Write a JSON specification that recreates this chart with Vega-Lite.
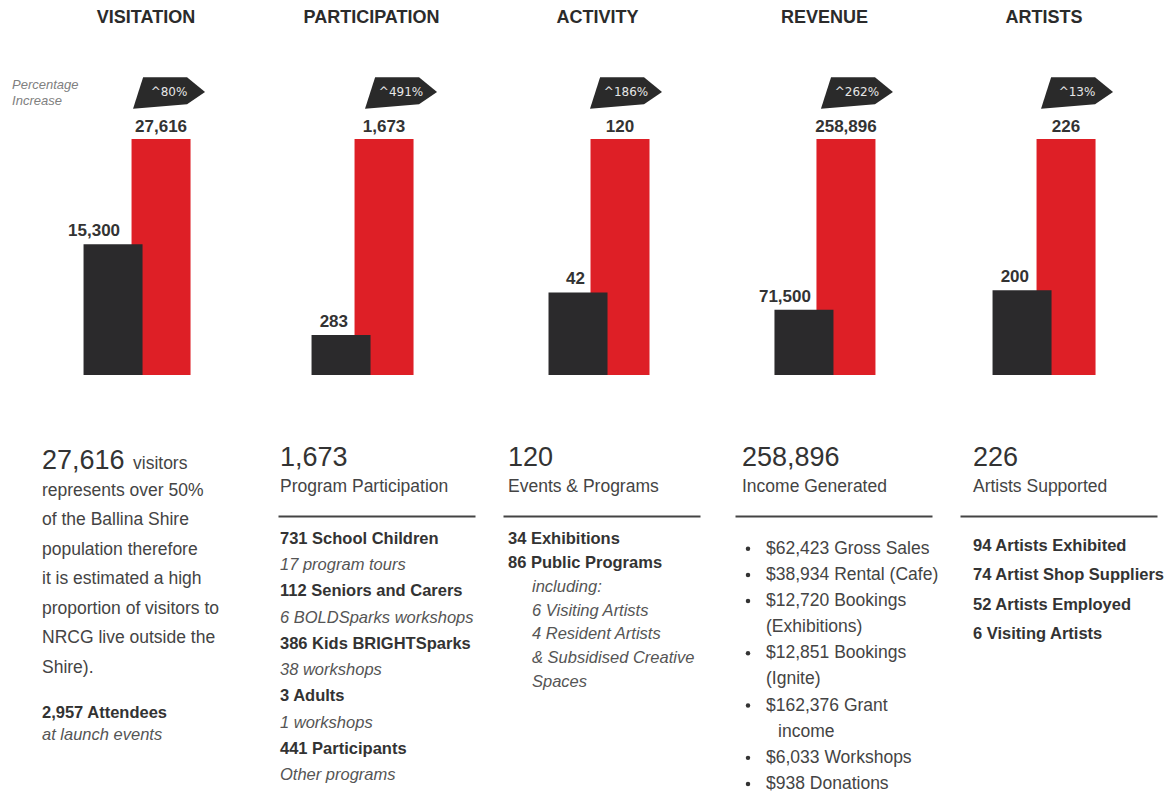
{
  "$schema": "https://vega.github.io/schema/vega-lite/v6.json",
  "background": "white",
  "padding": {"left": 12, "top": 9, "right": 2, "bottom": 2},
  "config": {
    "view": {"stroke": null},
    "font": "Liberation Sans",
    "title": {"fontSize": 18, "fontWeight": "bold", "color": "#2b2b2b", "baseline": "bottom", "offset": 50, "anchor": "middle"}
  },
  "datasets": {
    "bars": [
      {"panel": "VISITATION", "period": "Current", "value": 27616, "increase": "^80%"},
      {"panel": "VISITATION", "period": "Previous", "value": 15300},
      {"panel": "PARTICIPATION", "period": "Current", "value": 1673, "increase": "^491%"},
      {"panel": "PARTICIPATION", "period": "Previous", "value": 283},
      {"panel": "ACTIVITY", "period": "Current", "value": 120, "increase": "^186%"},
      {"panel": "ACTIVITY", "period": "Previous", "value": 42},
      {"panel": "REVENUE", "period": "Current", "value": 258896, "increase": "^262%"},
      {"panel": "REVENUE", "period": "Previous", "value": 71500},
      {"panel": "ARTISTS", "period": "Current", "value": 226, "increase": "^13%"},
      {"panel": "ARTISTS", "period": "Previous", "value": 200}
    ],
    "headers": [
      {"panel": "PARTICIPATION", "line": 1, "kind": "figure", "text": "1,673"},
      {"panel": "PARTICIPATION", "line": 2, "kind": "caption", "text": "Program Participation"},
      {"panel": "ACTIVITY", "line": 1, "kind": "figure", "text": "120"},
      {"panel": "ACTIVITY", "line": 2, "kind": "caption", "text": "Events & Programs"},
      {"panel": "REVENUE", "line": 1, "kind": "figure", "text": "258,896"},
      {"panel": "REVENUE", "line": 2, "kind": "caption", "text": "Income Generated"},
      {"panel": "ARTISTS", "line": 1, "kind": "figure", "text": "226"},
      {"panel": "ARTISTS", "line": 2, "kind": "caption", "text": "Artists Supported"}
    ],
    "details": [
      {"panel": "VISITATION", "line": 0, "indent": 0, "kind": "figure", "text": "27,616"},
      {"panel": "VISITATION", "line": 0, "indent": 0, "kind": "suffix", "text": "visitors"},
      {"panel": "VISITATION", "line": 1, "indent": 0, "kind": "body", "text": "represents over 50%"},
      {"panel": "VISITATION", "line": 2, "indent": 0, "kind": "body", "text": "of the Ballina Shire"},
      {"panel": "VISITATION", "line": 3, "indent": 0, "kind": "body", "text": "population therefore"},
      {"panel": "VISITATION", "line": 4, "indent": 0, "kind": "body", "text": "it is estimated  a high"},
      {"panel": "VISITATION", "line": 5, "indent": 0, "kind": "body", "text": "proportion of visitors to"},
      {"panel": "VISITATION", "line": 6, "indent": 0, "kind": "body", "text": "NRCG live outside the"},
      {"panel": "VISITATION", "line": 7, "indent": 0, "kind": "body", "text": "Shire)."},
      {"panel": "VISITATION", "line": 8, "indent": 0, "kind": "item", "text": "2,957 Attendees"},
      {"panel": "VISITATION", "line": 9, "indent": 0, "kind": "note", "text": "at launch events"},
      {"panel": "PARTICIPATION", "line": 0, "indent": 0, "kind": "item", "text": "731 School Children"},
      {"panel": "PARTICIPATION", "line": 1, "indent": 0, "kind": "note", "text": "17 program tours"},
      {"panel": "PARTICIPATION", "line": 2, "indent": 0, "kind": "item", "text": "112 Seniors and Carers"},
      {"panel": "PARTICIPATION", "line": 3, "indent": 0, "kind": "note", "text": "6 BOLDSparks workshops"},
      {"panel": "PARTICIPATION", "line": 4, "indent": 0, "kind": "item", "text": "386 Kids BRIGHTSparks"},
      {"panel": "PARTICIPATION", "line": 5, "indent": 0, "kind": "note", "text": "38 workshops"},
      {"panel": "PARTICIPATION", "line": 6, "indent": 0, "kind": "item", "text": "3 Adults"},
      {"panel": "PARTICIPATION", "line": 7, "indent": 0, "kind": "note", "text": " 1 workshops"},
      {"panel": "PARTICIPATION", "line": 8, "indent": 0, "kind": "item", "text": "441 Participants"},
      {"panel": "PARTICIPATION", "line": 9, "indent": 0, "kind": "note", "text": " Other programs"},
      {"panel": "ACTIVITY", "line": 0, "indent": 0, "kind": "item", "text": "34 Exhibitions"},
      {"panel": "ACTIVITY", "line": 1, "indent": 0, "kind": "item", "text": "86 Public Programs"},
      {"panel": "ACTIVITY", "line": 2, "indent": 1, "kind": "note", "text": "including:"},
      {"panel": "ACTIVITY", "line": 3, "indent": 1, "kind": "note", "text": "6 Visiting Artists"},
      {"panel": "ACTIVITY", "line": 4, "indent": 1, "kind": "note", "text": "4 Resident Artists"},
      {"panel": "ACTIVITY", "line": 5, "indent": 1, "kind": "note", "text": "& Subsidised Creative"},
      {"panel": "ACTIVITY", "line": 6, "indent": 1, "kind": "note", "text": "Spaces"},
      {"panel": "REVENUE", "line": 0, "indent": 1, "kind": "bullet", "text": "$62,423 Gross Sales"},
      {"panel": "REVENUE", "line": 1, "indent": 1, "kind": "bullet", "text": "$38,934 Rental (Cafe)"},
      {"panel": "REVENUE", "line": 2, "indent": 1, "kind": "bullet", "text": "$12,720 Bookings"},
      {"panel": "REVENUE", "line": 3, "indent": 1, "kind": "cont", "text": "(Exhibitions)"},
      {"panel": "REVENUE", "line": 4, "indent": 1, "kind": "bullet", "text": "$12,851 Bookings"},
      {"panel": "REVENUE", "line": 5, "indent": 1, "kind": "cont", "text": "(Ignite)"},
      {"panel": "REVENUE", "line": 6, "indent": 1, "kind": "bullet", "text": "$162,376 Grant"},
      {"panel": "REVENUE", "line": 7, "indent": 1.5, "kind": "cont", "text": "income"},
      {"panel": "REVENUE", "line": 8, "indent": 1, "kind": "bullet", "text": "$6,033 Workshops"},
      {"panel": "REVENUE", "line": 9, "indent": 1, "kind": "bullet", "text": "$938 Donations"},
      {"panel": "ARTISTS", "line": 0, "indent": 0, "kind": "item", "text": "94 Artists Exhibited"},
      {"panel": "ARTISTS", "line": 1, "indent": 0, "kind": "item", "text": "74 Artist Shop Suppliers"},
      {"panel": "ARTISTS", "line": 2, "indent": 0, "kind": "item", "text": "52 Artists Employed"},
      {"panel": "ARTISTS", "line": 3, "indent": 0, "kind": "item", "text": "6 Visiting Artists"}
    ]
  },
  "columns": 5,
  "spacing": {"row": 20, "column": 28},
  "bounds": "flush",
  "concat": [
    {
      "width": 144, "height": 236,
      "title": {"text": "VISITATION", "dx": 32},
      "data": {"name": "bars"},
      "transform": [{"filter": "datum.panel === 'VISITATION'"}],
      "encoding": {
        "x": {"field": "period", "type": "nominal", "sort": ["Previous", "Current"], "scale": {"type": "point", "padding": 1, "align": 0.74}, "axis": null},
        "y": {"field": "value", "type": "quantitative", "scale": {"nice": false, "zero": true}, "axis": null}
      },
      "layer": [
        {"mark": {"type": "bar", "width": 59}, "encoding": {"color": {"field": "period", "type": "nominal", "scale": {"domain": ["Previous", "Current"], "range": ["#2b2a2c", "#de1f26"]}, "legend": null}}},
        {"transform": [{"filter": "datum.period === 'Previous'"}], "mark": {"type": "text", "align": "right", "baseline": "middle", "dx": 7, "dy": -13, "fontSize": 17, "fontWeight": "bold", "color": "#333333"}, "encoding": {"text": {"field": "value", "type": "quantitative", "format": ","}}},
        {"transform": [{"filter": "datum.period === 'Current'"}], "mark": {"type": "text", "align": "center", "baseline": "middle", "dy": -12, "fontSize": 17, "fontWeight": "bold", "color": "#333333"}, "encoding": {"text": {"field": "value", "type": "quantitative", "format": ","}}},
        {"transform": [{"filter": "datum.period === 'Current'"}], "mark": {"type": "point", "shape": "M-0.72,-0.44L0.5,-0.44L1,-0.03L0.5,0.31L-1,0.44Z", "size": 5184, "filled": true, "color": "#2a2a2a", "opacity": 1, "xOffset": 8, "yOffset": -46}},
        {"transform": [{"filter": "datum.period === 'Current'"}], "mark": {"type": "text", "align": "center", "baseline": "middle", "dx": 8, "dy": -47, "fontSize": 12, "font": "DejaVu Sans", "color": "#e6e6e6"}, "encoding": {"text": {"field": "increase"}}},
        {"transform": [{"filter": "datum.period === 'Current'"}], "mark": {"type": "text", "text": ["Percentage", "Increase"], "lineHeight": 16, "align": "left", "baseline": "top", "dx": -149, "dy": -60, "fontSize": 13, "fontStyle": "italic", "color": "#808080"}}
      ]
    },
    {
      "width": 129, "height": 236,
      "title": {"text": "PARTICIPATION", "dx": 29},
      "data": {"name": "bars"},
      "transform": [{"filter": "datum.panel === 'PARTICIPATION'"}],
      "encoding": {
        "x": {"field": "period", "type": "nominal", "sort": ["Previous", "Current"], "scale": {"type": "point", "padding": 1, "align": 0.733}, "axis": null},
        "y": {"field": "value", "type": "quantitative", "scale": {"nice": false, "zero": true}, "axis": null}
      },
      "layer": [
        {"mark": {"type": "bar", "width": 59}, "encoding": {"color": {"field": "period", "type": "nominal", "scale": {"domain": ["Previous", "Current"], "range": ["#2b2a2c", "#de1f26"]}, "legend": null}}},
        {"transform": [{"filter": "datum.period === 'Previous'"}], "mark": {"type": "text", "align": "right", "baseline": "middle", "dx": 7, "dy": -13, "fontSize": 17, "fontWeight": "bold", "color": "#333333"}, "encoding": {"text": {"field": "value", "type": "quantitative", "format": ","}}},
        {"transform": [{"filter": "datum.period === 'Current'"}], "mark": {"type": "text", "align": "center", "baseline": "middle", "dy": -12, "fontSize": 17, "fontWeight": "bold", "color": "#333333"}, "encoding": {"text": {"field": "value", "type": "quantitative", "format": ","}}},
        {"transform": [{"filter": "datum.period === 'Current'"}], "mark": {"type": "point", "shape": "M-0.72,-0.44L0.5,-0.44L1,-0.03L0.5,0.31L-1,0.44Z", "size": 5184, "filled": true, "color": "#2a2a2a", "opacity": 1, "xOffset": 17, "yOffset": -46}},
        {"transform": [{"filter": "datum.period === 'Current'"}], "mark": {"type": "text", "align": "center", "baseline": "middle", "dx": 17, "dy": -47, "fontSize": 12, "font": "DejaVu Sans", "color": "#e6e6e6"}, "encoding": {"text": {"field": "increase"}}}
      ]
    },
    {
      "width": 126, "height": 236,
      "title": {"text": "ACTIVITY", "dx": 31.5},
      "data": {"name": "bars"},
      "transform": [{"filter": "datum.panel === 'ACTIVITY'"}],
      "encoding": {
        "x": {"field": "period", "type": "nominal", "sort": ["Previous", "Current"], "scale": {"type": "point", "padding": 1, "align": 0.893}, "axis": null},
        "y": {"field": "value", "type": "quantitative", "scale": {"nice": false, "zero": true}, "axis": null}
      },
      "layer": [
        {"mark": {"type": "bar", "width": 59}, "encoding": {"color": {"field": "period", "type": "nominal", "scale": {"domain": ["Previous", "Current"], "range": ["#2b2a2c", "#de1f26"]}, "legend": null}}},
        {"transform": [{"filter": "datum.period === 'Previous'"}], "mark": {"type": "text", "align": "right", "baseline": "middle", "dx": 7, "dy": -13, "fontSize": 17, "fontWeight": "bold", "color": "#333333"}, "encoding": {"text": {"field": "value", "type": "quantitative", "format": ","}}},
        {"transform": [{"filter": "datum.period === 'Current'"}], "mark": {"type": "text", "align": "center", "baseline": "middle", "dy": -12, "fontSize": 17, "fontWeight": "bold", "color": "#333333"}, "encoding": {"text": {"field": "value", "type": "quantitative", "format": ","}}},
        {"transform": [{"filter": "datum.period === 'Current'"}], "mark": {"type": "point", "shape": "M-0.72,-0.44L0.5,-0.44L1,-0.03L0.5,0.31L-1,0.44Z", "size": 5184, "filled": true, "color": "#2a2a2a", "opacity": 1, "xOffset": 6, "yOffset": -46}},
        {"transform": [{"filter": "datum.period === 'Current'"}], "mark": {"type": "text", "align": "center", "baseline": "middle", "dx": 6, "dy": -47, "fontSize": 12, "font": "DejaVu Sans", "color": "#e6e6e6"}, "encoding": {"text": {"field": "increase"}}}
      ]
    },
    {
      "width": 126, "height": 236,
      "title": {"text": "REVENUE", "dx": 26.5},
      "data": {"name": "bars"},
      "transform": [{"filter": "datum.panel === 'REVENUE'"}],
      "encoding": {
        "x": {"field": "period", "type": "nominal", "sort": ["Previous", "Current"], "scale": {"type": "point", "padding": 1, "align": 0.821}, "axis": null},
        "y": {"field": "value", "type": "quantitative", "scale": {"nice": false, "zero": true}, "axis": null}
      },
      "layer": [
        {"mark": {"type": "bar", "width": 59}, "encoding": {"color": {"field": "period", "type": "nominal", "scale": {"domain": ["Previous", "Current"], "range": ["#2b2a2c", "#de1f26"]}, "legend": null}}},
        {"transform": [{"filter": "datum.period === 'Previous'"}], "mark": {"type": "text", "align": "right", "baseline": "middle", "dx": 7, "dy": -13, "fontSize": 17, "fontWeight": "bold", "color": "#333333"}, "encoding": {"text": {"field": "value", "type": "quantitative", "format": ","}}},
        {"transform": [{"filter": "datum.period === 'Current'"}], "mark": {"type": "text", "align": "center", "baseline": "middle", "dy": -12, "fontSize": 17, "fontWeight": "bold", "color": "#333333"}, "encoding": {"text": {"field": "value", "type": "quantitative", "format": ","}}},
        {"transform": [{"filter": "datum.period === 'Current'"}], "mark": {"type": "point", "shape": "M-0.72,-0.44L0.5,-0.44L1,-0.03L0.5,0.31L-1,0.44Z", "size": 5184, "filled": true, "color": "#2a2a2a", "opacity": 1, "xOffset": 11, "yOffset": -46}},
        {"transform": [{"filter": "datum.period === 'Current'"}], "mark": {"type": "text", "align": "center", "baseline": "middle", "dx": 11, "dy": -47, "fontSize": 12, "font": "DejaVu Sans", "color": "#e6e6e6"}, "encoding": {"text": {"field": "increase"}}}
      ]
    },
    {
      "width": 132, "height": 236,
      "title": {"text": "ARTISTS", "dx": 18},
      "data": {"name": "bars"},
      "transform": [{"filter": "datum.panel === 'ARTISTS'"}],
      "encoding": {
        "x": {"field": "period", "type": "nominal", "sort": ["Previous", "Current"], "scale": {"type": "point", "padding": 1, "align": 0.705}, "axis": null},
        "y": {"field": "value", "type": "quantitative", "scale": {"domain": [185.4, 226], "nice": false, "zero": false, "clamp": true}, "axis": null}
      },
      "layer": [
        {"mark": {"type": "bar", "width": 59}, "encoding": {"color": {"field": "period", "type": "nominal", "scale": {"domain": ["Previous", "Current"], "range": ["#2b2a2c", "#de1f26"]}, "legend": null}}},
        {"transform": [{"filter": "datum.period === 'Previous'"}], "mark": {"type": "text", "align": "right", "baseline": "middle", "dx": 7, "dy": -13, "fontSize": 17, "fontWeight": "bold", "color": "#333333"}, "encoding": {"text": {"field": "value", "type": "quantitative", "format": ","}}},
        {"transform": [{"filter": "datum.period === 'Current'"}], "mark": {"type": "text", "align": "center", "baseline": "middle", "dy": -12, "fontSize": 17, "fontWeight": "bold", "color": "#333333"}, "encoding": {"text": {"field": "value", "type": "quantitative", "format": ","}}},
        {"transform": [{"filter": "datum.period === 'Current'"}], "mark": {"type": "point", "shape": "M-0.72,-0.44L0.5,-0.44L1,-0.03L0.5,0.31L-1,0.44Z", "size": 5184, "filled": true, "color": "#2a2a2a", "opacity": 1, "xOffset": 11, "yOffset": -46}},
        {"transform": [{"filter": "datum.period === 'Current'"}], "mark": {"type": "text", "align": "center", "baseline": "middle", "dx": 11, "dy": -47, "fontSize": 12, "font": "DejaVu Sans", "color": "#e6e6e6"}, "encoding": {"text": {"field": "increase"}}}
      ]
    },
    {
      "width": 208, "height": 121,
      "data": {"name": "details"},
      "transform": [{"filter": "datum.panel === 'VISITATION' && datum.line <= 7"}],
      "encoding": {
        "x": {"field": "indent", "type": "quantitative", "scale": {"domain": [0, 8.2]}, "axis": null},
        "y": {"field": "line", "type": "quantitative", "scale": {"domain": [-2.231, 1.86], "reverse": true, "nice": false, "zero": false}, "axis": null},
        "text": {"field": "text"}
      },
      "layer": [
        {"transform": [{"filter": "datum.kind === 'figure'"}], "mark": {"type": "text", "align": "left", "baseline": "middle", "fontSize": 27, "color": "#333333"}},
        {"transform": [{"filter": "datum.kind === 'suffix'"}], "mark": {"type": "text", "align": "left", "baseline": "middle", "dx": 91, "dy": 3, "fontSize": 17.5, "color": "#444444"}},
        {"transform": [{"filter": "datum.kind === 'body'"}], "mark": {"type": "text", "align": "left", "baseline": "middle", "fontSize": 17.5, "color": "#444444"}}
      ]
    },
    {
      "width": 197, "height": 121,
      "data": {"name": "headers"},
      "transform": [{"filter": "datum.panel === 'PARTICIPATION'"}],
      "encoding": {
        "x": {"datum": 0, "type": "quantitative", "scale": {"domain": [0, 8]}, "axis": {"domain": true, "domainColor": "#444444", "domainWidth": 2, "ticks": false, "labels": false, "grid": false, "title": null}},
        "y": {"field": "line", "type": "quantitative", "scale": {"domain": [-1.17, 3], "reverse": true, "nice": false, "zero": false}, "axis": null},
        "text": {"field": "text"}
      },
      "layer": [
        {"transform": [{"filter": "datum.kind === 'figure'"}], "mark": {"type": "text", "align": "left", "baseline": "middle", "dx": 2, "fontSize": 27, "color": "#333333"}},
        {"transform": [{"filter": "datum.kind === 'caption'"}], "mark": {"type": "text", "align": "left", "baseline": "middle", "dx": 2, "fontSize": 17.5, "color": "#444444"}}
      ]
    },
    {
      "width": 197, "height": 121,
      "data": {"name": "headers"},
      "transform": [{"filter": "datum.panel === 'ACTIVITY'"}],
      "encoding": {
        "x": {"datum": 0, "type": "quantitative", "scale": {"domain": [0, 8]}, "axis": {"domain": true, "domainColor": "#444444", "domainWidth": 2, "ticks": false, "labels": false, "grid": false, "title": null}},
        "y": {"field": "line", "type": "quantitative", "scale": {"domain": [-1.17, 3], "reverse": true, "nice": false, "zero": false}, "axis": null},
        "text": {"field": "text"}
      },
      "layer": [
        {"transform": [{"filter": "datum.kind === 'figure'"}], "mark": {"type": "text", "align": "left", "baseline": "middle", "dx": 5, "fontSize": 27, "color": "#333333"}},
        {"transform": [{"filter": "datum.kind === 'caption'"}], "mark": {"type": "text", "align": "left", "baseline": "middle", "dx": 5, "fontSize": 17.5, "color": "#444444"}}
      ]
    },
    {
      "width": 197, "height": 121,
      "data": {"name": "headers"},
      "transform": [{"filter": "datum.panel === 'REVENUE'"}],
      "encoding": {
        "x": {"datum": 0, "type": "quantitative", "scale": {"domain": [0, 8]}, "axis": {"domain": true, "domainColor": "#444444", "domainWidth": 2, "ticks": false, "labels": false, "grid": false, "title": null}},
        "y": {"field": "line", "type": "quantitative", "scale": {"domain": [-1.17, 3], "reverse": true, "nice": false, "zero": false}, "axis": null},
        "text": {"field": "text"}
      },
      "layer": [
        {"transform": [{"filter": "datum.kind === 'figure'"}], "mark": {"type": "text", "align": "left", "baseline": "middle", "dx": 7, "fontSize": 27, "color": "#333333"}},
        {"transform": [{"filter": "datum.kind === 'caption'"}], "mark": {"type": "text", "align": "left", "baseline": "middle", "dx": 7, "fontSize": 17.5, "color": "#444444"}}
      ]
    },
    {
      "width": 197, "height": 121,
      "data": {"name": "headers"},
      "transform": [{"filter": "datum.panel === 'ARTISTS'"}],
      "encoding": {
        "x": {"datum": 0, "type": "quantitative", "scale": {"domain": [0, 8]}, "axis": {"domain": true, "domainColor": "#444444", "domainWidth": 2, "ticks": false, "labels": false, "grid": false, "title": null}},
        "y": {"field": "line", "type": "quantitative", "scale": {"domain": [-1.17, 3], "reverse": true, "nice": false, "zero": false}, "axis": null},
        "text": {"field": "text"}
      },
      "layer": [
        {"transform": [{"filter": "datum.kind === 'figure'"}], "mark": {"type": "text", "align": "left", "baseline": "middle", "dx": 13, "fontSize": 27, "color": "#333333"}},
        {"transform": [{"filter": "datum.kind === 'caption'"}], "mark": {"type": "text", "align": "left", "baseline": "middle", "dx": 13, "fontSize": 17.5, "color": "#444444"}}
      ]
    },
    {
      "width": 208, "height": 210,
      "data": {"name": "details"},
      "transform": [{"filter": "datum.panel === 'VISITATION' && datum.line >= 8"}],
      "encoding": {
        "x": {"field": "indent", "type": "quantitative", "scale": {"domain": [0, 8.2]}, "axis": null},
        "y": {"field": "line", "type": "quantitative", "scale": {"domain": [-0.05, 9.5], "reverse": true, "nice": false, "zero": false}, "axis": null},
        "text": {"field": "text"}
      },
      "layer": [
        {"transform": [{"filter": "datum.kind === 'item'"}], "mark": {"type": "text", "align": "left", "baseline": "middle", "fontSize": 16.5, "fontWeight": "bold", "color": "#333333"}},
        {"transform": [{"filter": "datum.kind === 'note'"}], "mark": {"type": "text", "align": "left", "baseline": "middle", "fontSize": 16.5, "fontStyle": "italic", "color": "#555555"}}
      ]
    },
    {
      "width": 197, "height": 239,
      "data": {"name": "details"},
      "transform": [{"filter": "datum.panel === 'PARTICIPATION'"}],
      "encoding": {
        "x": {"field": "indent", "type": "quantitative", "scale": {"domain": [0, 8.2]}, "axis": null},
        "y": {"field": "line", "type": "quantitative", "scale": {"domain": [-0.115, 9], "reverse": true, "nice": false, "zero": false}, "axis": null},
        "text": {"field": "text"}
      },
      "layer": [
        {"transform": [{"filter": "datum.kind === 'item'"}], "mark": {"type": "text", "align": "left", "baseline": "middle", "dx": 2, "fontSize": 16.5, "fontWeight": "bold", "color": "#333333"}},
        {"transform": [{"filter": "datum.kind === 'note'"}], "mark": {"type": "text", "align": "left", "baseline": "middle", "dx": 2, "fontSize": 16.5, "fontStyle": "italic", "color": "#555555"}}
      ]
    },
    {
      "width": 204, "height": 146,
      "data": {"name": "details"},
      "transform": [{"filter": "datum.panel === 'ACTIVITY'"}],
      "encoding": {
        "x": {"field": "indent", "type": "quantitative", "scale": {"domain": [0, 8.5]}, "axis": null},
        "y": {"field": "line", "type": "quantitative", "scale": {"domain": [-0.126, 6], "reverse": true, "nice": false, "zero": false}, "axis": null},
        "text": {"field": "text"}
      },
      "layer": [
        {"transform": [{"filter": "datum.kind === 'item'"}], "mark": {"type": "text", "align": "left", "baseline": "middle", "dx": 5, "fontSize": 16.5, "fontWeight": "bold", "color": "#333333"}},
        {"transform": [{"filter": "datum.kind === 'note'"}], "mark": {"type": "text", "align": "left", "baseline": "middle", "dx": 5, "fontSize": 16.5, "fontStyle": "italic", "color": "#555555"}}
      ]
    },
    {
      "width": 197, "height": 248,
      "data": {"name": "details"},
      "transform": [{"filter": "datum.panel === 'REVENUE'"}],
      "encoding": {
        "x": {"field": "indent", "type": "quantitative", "scale": {"domain": [0, 8.2]}, "axis": null},
        "y": {"field": "line", "type": "quantitative", "scale": {"domain": [-0.49, 9], "reverse": true, "nice": false, "zero": false}, "axis": null}
      },
      "layer": [
        {"transform": [{"filter": "datum.kind === 'bullet'"}], "mark": {"type": "point", "shape": "circle", "size": 20, "filled": true, "color": "#333333", "opacity": 1, "xOffset": 13}, "encoding": {"x": {"datum": 0, "type": "quantitative"}}},
        {"transform": [{"filter": "datum.kind === 'bullet' || datum.kind === 'cont'"}], "mark": {"type": "text", "align": "left", "baseline": "middle", "dx": 7, "fontSize": 17.5, "color": "#444444"}, "encoding": {"text": {"field": "text"}}}
      ]
    },
    {
      "width": 197, "height": 98,
      "data": {"name": "details"},
      "transform": [{"filter": "datum.panel === 'ARTISTS'"}],
      "encoding": {
        "x": {"field": "indent", "type": "quantitative", "scale": {"domain": [0, 8.2]}, "axis": null},
        "y": {"field": "line", "type": "quantitative", "scale": {"domain": [-0.35, 3], "reverse": true, "nice": false, "zero": false}, "axis": null},
        "text": {"field": "text"}
      },
      "layer": [
        {"transform": [{"filter": "datum.kind === 'item'"}], "mark": {"type": "text", "align": "left", "baseline": "middle", "dx": 13, "fontSize": 16.5, "fontWeight": "bold", "color": "#333333"}}
      ]
    }
  ]
}
